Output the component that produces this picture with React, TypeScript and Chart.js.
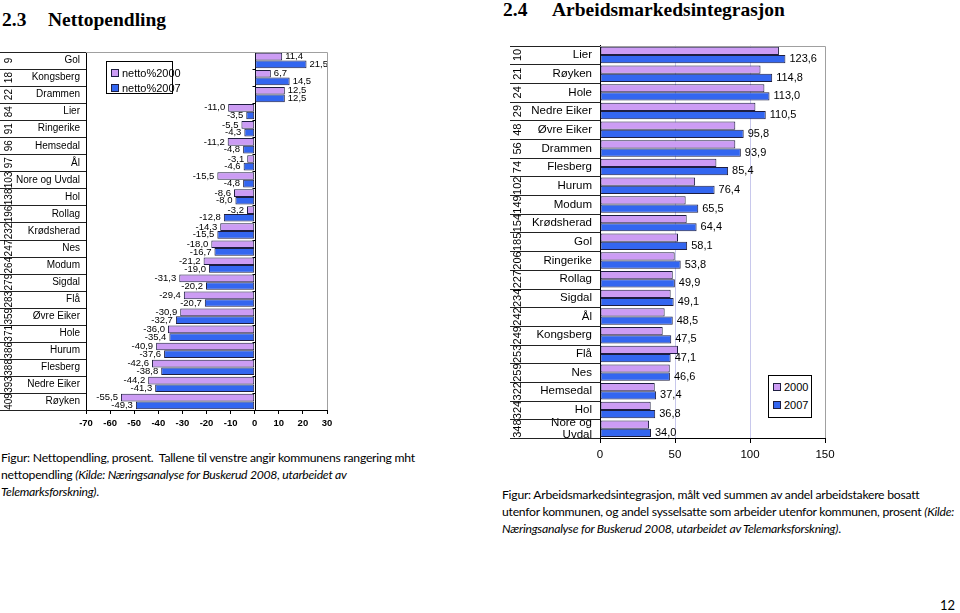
import React, { useEffect, useRef } from "react";
import { Chart, registerables } from "chart.js";

Chart.register(...registerables);

// ---------- data: 2.3 Nettopendling ----------
const leftCategories = ["Gol", "Kongsberg", "Drammen", "Lier", "Ringerike", "Hemsedal", "Ål", "Nore og Uvdal", "Hol", "Rollag", "Krødsherad", "Nes", "Modum", "Sigdal", "Flå", "Øvre Eiker", "Hole", "Hurum", "Flesberg", "Nedre Eiker", "Røyken"];
const leftRanks = [9, 18, 22, 84, 91, 96, 97, 103, 138, 196, 232, 247, 264, 279, 283, 359, 371, 386, 388, 393, 409];
const netto2000 = [11.4, 6.7, 12.5, -11.0, -5.5, -11.2, -3.1, -15.5, -8.6, -3.2, -14.3, -18.0, -21.2, -31.3, -29.4, -30.9, -36.0, -40.9, -42.6, -44.2, -55.5];
const netto2007 = [21.5, 14.5, 12.5, -3.5, -4.3, -4.8, -4.6, -4.8, -8.0, -12.8, -15.5, -16.7, -19.0, -20.2, -20.7, -32.7, -35.4, -37.6, -38.8, -41.3, -49.3];
const leftSeriesNames = ["netto%2000", "netto%2007"];
const leftAxisMin = -70;
const leftAxisMax = 30;
const leftAxisStep = 10;

// ---------- data: 2.4 Arbeidsmarkedsintegrasjon ----------
const rightCategories: (string | string[])[] = ["Lier", "Røyken", "Hole", "Nedre Eiker", "Øvre Eiker", "Drammen", "Flesberg", "Hurum", "Modum", "Krødsherad", "Gol", "Ringerike", "Rollag", "Sigdal", "Ål", "Kongsberg", "Flå", "Nes", "Hemsedal", "Hol", ["Nore og", "Uvdal"]];
const rightRanks = [10, 21, 24, 29, 48, 56, 74, 102, 149, 154, 185, 206, 227, 234, 242, 249, 253, 259, 322, 324, 348];
const integ2000 = [119.3, 107.0, 109.6, 103.6, 90.2, 90.2, 77.6, 63.4, 57.1, 57.8, 52.0, 49.8, 48.5, 47.1, 43.1, 41.8, 52.0, 46.5, 36.5, 33.8, 32.7];
const integ2007 = [123.6, 114.8, 113.0, 110.5, 95.8, 93.9, 85.4, 76.4, 65.5, 64.4, 58.1, 53.8, 49.9, 49.1, 48.5, 47.5, 47.1, 46.6, 37.4, 36.8, 34.0];
const rightSeriesNames = ["2000", "2007"];
const rightAxisMin = 0;
const rightAxisMax = 150;
const rightAxisStep = 50;

const PURPLE = "#CC9CF4";
const BLUE = "#3366F0";
const EDGE = "#1E1E40";
const SANS = '"Liberation Sans", Arial, sans-serif';
const CAPTION = 'Lato, "Open Sans", sans-serif';
const SERIF = '"Liberation Serif", "Times New Roman", serif';

const fmt = (v: number) => v.toFixed(1).replace(".", ",");

const tablePlugin = {
  id: "table",
  beforeDatasetsDraw(chart: any, _a: any, opts: any) {
    if (!opts.zeroLine) return;
    const { ctx, chartArea: ca, scales } = chart;
    const x0 = Math.round(scales.x.getPixelForValue(0)) + 0.5;
    const y = scales.y;
    const n = opts.ranks.length;
    const step = y.getPixelForValue(1) - y.getPixelForValue(0);
    ctx.save();
    ctx.strokeStyle = "#000";
    ctx.lineWidth = 1;
    ctx.beginPath();
    ctx.moveTo(x0, ca.top);
    ctx.lineTo(x0, ca.bottom);
    for (let i = 0; i <= n; i++) {
      const py = Math.round(y.getPixelForValue(i) - step / 2) + 0.5;
      ctx.moveTo(x0 - 3, py);
      ctx.lineTo(x0, py);
    }
    ctx.stroke();
    ctx.restore();
  },
  afterDraw(chart: any, _a: any, opts: any) {
    const { ctx, chartArea: ca, scales } = chart;
    const y = scales.y;
    const n = opts.ranks.length;
    const step = y.getPixelForValue(1) - y.getPixelForValue(0);
    ctx.save();
    // plot area border (top + right)
    ctx.strokeStyle = opts.borderColor;
    ctx.lineWidth = 1;
    ctx.beginPath();
    ctx.moveTo(ca.left, Math.round(ca.top) + 0.5);
    ctx.lineTo(Math.round(ca.right) + 0.5, Math.round(ca.top) + 0.5);
    ctx.lineTo(Math.round(ca.right) + 0.5, ca.bottom);
    ctx.stroke();
    // table lines in label area
    ctx.strokeStyle = "#222";
    ctx.beginPath();
    for (let i = 0; i <= n; i++) {
      const py = Math.round(y.getPixelForValue(i) - step / 2) + 0.5;
      ctx.moveTo(opts.lineLeft, py);
      ctx.lineTo(ca.left, py);
    }
    ctx.stroke();
    // rank numbers (rotated)
    ctx.fillStyle = "#000";
    ctx.font = `${opts.rankSize}px ${SANS}`;
    ctx.textAlign = "center";
    ctx.textBaseline = "middle";
    for (let i = 0; i < n; i++) {
      ctx.save();
      ctx.translate(opts.rankX, y.getPixelForValue(i));
      ctx.rotate(-Math.PI / 2);
      ctx.fillText(String(opts.ranks[i]), 0, 0);
      ctx.restore();
    }
    ctx.restore();
  },
};

const labelPlugin = {
  id: "vlabels",
  afterDatasetsDraw(chart: any, _a: any, opts: any) {
    const ctx = chart.ctx;
    ctx.save();
    ctx.font = `${opts.size}px ${SANS}`;
    ctx.fillStyle = "#000";
    ctx.textBaseline = "middle";
    opts.datasets.forEach((di: number) => {
      const meta = chart.getDatasetMeta(di);
      const data = chart.data.datasets[di].data as number[];
      meta.data.forEach((bar: any, i: number) => {
        const v = data[i];
        const t = fmt(v);
        if (v >= 0) {
          ctx.textAlign = "left";
          ctx.fillText(t, bar.x + opts.offset, bar.y);
        } else {
          ctx.textAlign = "right";
          ctx.fillText(t, bar.x - opts.offset, bar.y);
        }
      });
    });
    ctx.restore();
  },
};

function LeftChart() {
  const ref = useRef<HTMLCanvasElement>(null);
  useEffect(() => {
    const chart = new Chart(ref.current!, {
      type: "bar",
      data: {
        labels: leftCategories,
        datasets: [
          { label: leftSeriesNames[0], data: netto2000, backgroundColor: PURPLE, borderColor: EDGE, borderWidth: 1, borderSkipped: false, categoryPercentage: 0.9, barPercentage: 1 },
          { label: leftSeriesNames[1], data: netto2007, backgroundColor: BLUE, borderColor: EDGE, borderWidth: 1, borderSkipped: false, categoryPercentage: 0.9, barPercentage: 1 },
        ],
      },
      options: {
        indexAxis: "y",
        responsive: false,
        animation: false,
        layout: { padding: { top: 8, right: 18, left: 0, bottom: 0 } },
        plugins: {
          legend: { display: false },
          tooltip: { enabled: false },
          table: { ranks: leftRanks, rankX: 9, rankSize: 10, lineLeft: 0, borderColor: "#A0A0A0", zeroLine: true },
          vlabels: { datasets: [0, 1], size: 9.5, offset: 3 },
        } as any,
        scales: {
          x: {
            min: leftAxisMin,
            max: leftAxisMax,
            ticks: { stepSize: leftAxisStep, color: "#000", padding: 4, font: { size: 9.5, weight: "bold", family: SANS } },
            grid: { drawOnChartArea: false, tickLength: 4, tickColor: "#000" },
            border: { color: "#000" },
            afterFit: (s: any) => { s.height = 25; },
          },
          y: {
            ticks: { color: "#000", padding: 6, autoSkip: false, font: { size: 10, family: SANS } },
            grid: { display: false, drawTicks: false },
            border: { display: true, color: "#000" },
            afterFit: (s: any) => { s.width = 86; },
          },
        },
      },
      plugins: [tablePlugin, labelPlugin],
    });
    return () => chart.destroy();
  }, []);
  return <canvas ref={ref} width={345} height={395} style={{ position: "absolute", left: 0, top: 40 }} />;
}

function RightChart() {
  const ref = useRef<HTMLCanvasElement>(null);
  useEffect(() => {
    const chart = new Chart(ref.current!, {
      type: "bar",
      data: {
        labels: rightCategories,
        datasets: [
          { label: rightSeriesNames[0], data: integ2000, backgroundColor: PURPLE, borderColor: EDGE, borderWidth: 1, borderSkipped: false, categoryPercentage: 0.88, barPercentage: 1 },
          { label: rightSeriesNames[1], data: integ2007, backgroundColor: BLUE, borderColor: EDGE, borderWidth: 1, borderSkipped: false, categoryPercentage: 0.88, barPercentage: 1 },
        ],
      },
      options: {
        indexAxis: "y",
        responsive: false,
        animation: false,
        layout: { padding: { top: 6, right: 20, left: 0, bottom: 0 } },
        plugins: {
          legend: { display: false },
          tooltip: { enabled: false },
          table: { ranks: rightRanks, rankX: 18, rankSize: 11, lineLeft: 10, borderColor: "#A0A0A0", zeroLine: false },
          vlabels: { datasets: [1], size: 11, offset: 4 },
        } as any,
        scales: {
          x: {
            min: rightAxisMin,
            max: rightAxisMax,
            ticks: { stepSize: rightAxisStep, color: "#000", padding: 5, font: { size: 11.5, family: SANS } },
            grid: {
              drawOnChartArea: true,
              tickLength: 5,
              tickColor: "#000",
              color: (c: any) => (c.tick && c.tick.value > rightAxisMin && c.tick.value < rightAxisMax ? "#C8C8EC" : "rgba(0,0,0,0)"),
            },
            border: { color: "#000" },
            afterFit: (s: any) => { s.height = 27; },
          },
          y: {
            ticks: { color: "#000", padding: 8, autoSkip: false, font: { size: 11.5, family: SANS, lineHeight: 1.1 } },
            grid: { display: false, drawTicks: false },
            border: { display: true, color: "#000" },
            afterFit: (s: any) => { s.width = 100; },
          },
        },
      },
      plugins: [tablePlugin, labelPlugin],
    });
    return () => chart.destroy();
  }, []);
  return <canvas ref={ref} width={345} height={440} style={{ position: "absolute", left: 500, top: 25 }} />;
}

function LegendBox({ left, top, width, height, names, rowGap }: { left: number; top: number; width: number; height: number; names: string[]; rowGap: number }) {
  const colors = [PURPLE, BLUE];
  return (
    <div style={{ position: "absolute", left, top, width, height, border: "1px solid #000", boxSizing: "border-box", background: "#fff", fontFamily: SANS, fontSize: 11, color: "#000" }}>
      {names.map((n, i) => (
        <div key={n} style={{ position: "absolute", left: 4, top: 4 + i * rowGap, height: 13, display: "flex", alignItems: "center", whiteSpace: "nowrap" }}>
          <span style={{ display: "inline-block", width: 6, height: 6, background: colors[i], border: `1px solid ${EDGE}`, marginRight: 3 }} />
          {n}
        </div>
      ))}
    </div>
  );
}

export default function App() {
  const cap: React.CSSProperties = { position: "absolute", fontFamily: CAPTION, fontSize: 12.2, letterSpacing: "-0.25px", lineHeight: "17px", color: "#000", whiteSpace: "nowrap" };
  return (
    <div style={{ position: "absolute", left: 0, top: 0, width: 960, height: 613, overflow: "hidden", background: "#fff" }}>
      <div style={{ position: "absolute", left: 2, top: 8, fontFamily: SERIF, fontWeight: "bold", fontSize: 19.5, lineHeight: "24px" }}>2.3</div>
      <div style={{ position: "absolute", left: 48, top: 8, fontFamily: SERIF, fontWeight: "bold", fontSize: 19.5, lineHeight: "24px" }}>Nettopendling</div>
      <div style={{ position: "absolute", left: 503, top: -2, fontFamily: SERIF, fontWeight: "bold", fontSize: 19.5, lineHeight: "24px" }}>2.4</div>
      <div style={{ position: "absolute", left: 552, top: -2, fontFamily: SERIF, fontWeight: "bold", fontSize: 19.5, lineHeight: "24px" }}>Arbeidsmarkedsintegrasjon</div>

      <LeftChart />
      <RightChart />

      <LegendBox left={106} top={61} width={67} height={33} names={leftSeriesNames} rowGap={15} />
      <LegendBox left={768} top={375} width={44} height={43} names={rightSeriesNames} rowGap={18} />

      <div style={{ ...cap, left: 1, top: 449 }}>
        Figur: Nettopendling, prosent.&nbsp; Tallene til venstre angir kommunens rangering mht<br />
        nettopendling <i>(Kilde: Næringsanalyse for Buskerud 2008, utarbeidet av</i><br />
        <i>Telemarksforskning)</i>.
      </div>
      <div style={{ ...cap, left: 502, top: 486 }}>
        Figur: Arbeidsmarkedsintegrasjon, målt ved summen av andel arbeidstakere bosatt<br />
        utenfor kommunen, og andel sysselsatte som arbeider utenfor kommunen, prosent <i>(Kilde:</i><br />
        <i>Næringsanalyse for Buskerud 2008, utarbeidet av Telemarksforskning)</i>.
      </div>
      <div style={{ position: "absolute", left: 940, top: 597, fontFamily: CAPTION, fontSize: 13, color: "#000" }}>12</div>
    </div>
  );
}
